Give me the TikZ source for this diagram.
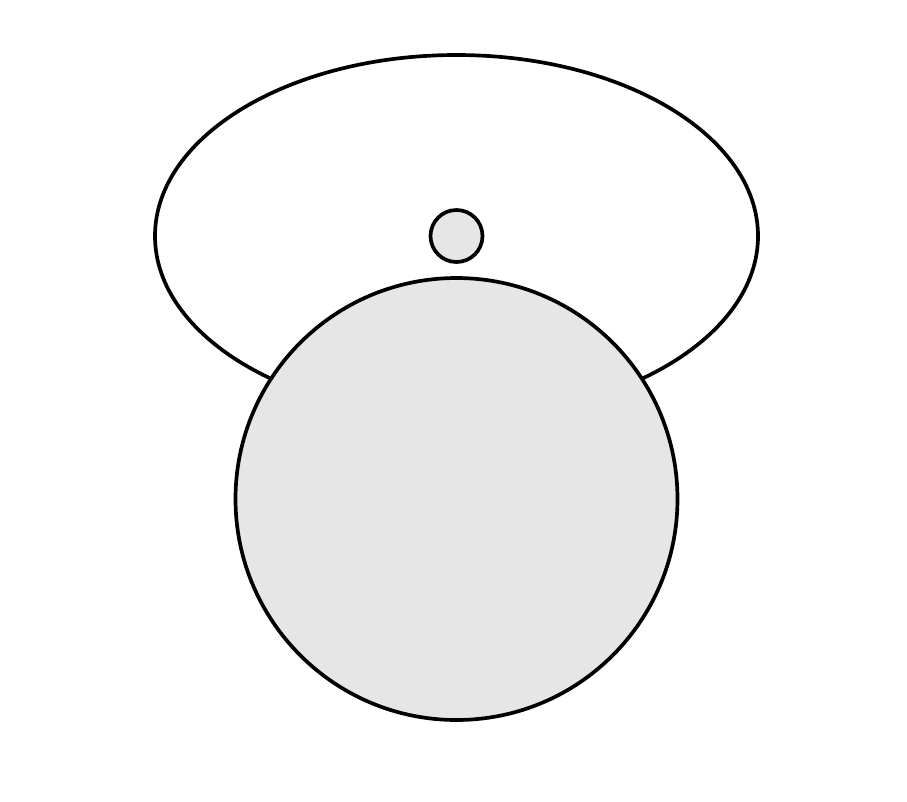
\documentclass[tikz,border=0pt]{standalone}
\usetikzlibrary{positioning}
\definecolor{discgray}{HTML}{E6E6E6}

\begin{document}
\begin{tikzpicture}[x=0.02cm,y=-0.02cm,line width=2.1pt]
            \useasboundingbox (0,0) rectangle (907,802);
            \draw (456.5,236) ellipse (301.5 and 181);
            \draw[fill=discgray] (456.5,236) circle (26);
            \draw[fill=discgray] (456.5,499) circle (221);
        \end{tikzpicture}
\end{document}
